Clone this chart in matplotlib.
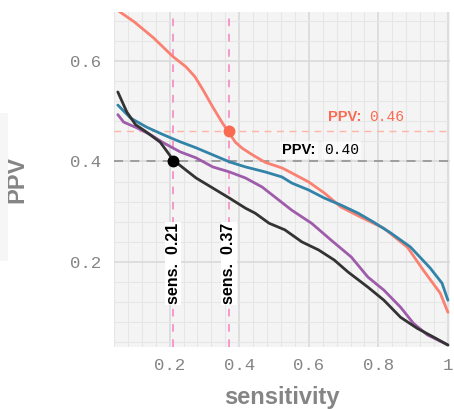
import matplotlib
matplotlib.use("Agg")
import matplotlib.pyplot as plt
from matplotlib.patches import Rectangle
import numpy as np

# ---- data ----
salmon_x = [0.051, 0.097, 0.153, 0.210, 0.247, 0.273, 0.296, 0.324, 0.352, 0.372, 0.389, 0.409,
            0.438, 0.475, 0.523, 0.551, 0.600, 0.645, 0.693, 0.750, 0.816, 0.884, 0.929,
            0.978, 1.0]
salmon_y = [0.700, 0.678, 0.646, 0.608, 0.588, 0.568, 0.542, 0.508, 0.476, 0.456, 0.438, 0.426,
            0.413, 0.398, 0.387, 0.377, 0.359, 0.337, 0.309, 0.289, 0.267, 0.229, 0.184,
            0.138, 0.100]

blue_x = [0.051, 0.088, 0.134, 0.182, 0.230, 0.276, 0.324, 0.372, 0.418, 0.475, 0.523, 0.551,
          0.600, 0.645, 0.693, 0.742, 0.787, 0.835, 0.892, 0.949, 0.983, 1.0]
blue_y = [0.512, 0.486, 0.468, 0.453, 0.439, 0.427, 0.413, 0.399, 0.389, 0.379, 0.369, 0.357,
          0.343, 0.327, 0.313, 0.297, 0.279, 0.258, 0.230, 0.188, 0.158, 0.124]

purple_x = [0.051, 0.068, 0.105, 0.145, 0.182, 0.230, 0.276, 0.324, 0.372, 0.418, 0.466, 0.514,
            0.551, 0.608, 0.665, 0.722, 0.770, 0.816, 0.864, 0.901, 0.941, 1.0]
purple_y = [0.493, 0.478, 0.467, 0.453, 0.437, 0.419, 0.407, 0.389, 0.379, 0.367, 0.349, 0.323,
            0.303, 0.277, 0.243, 0.210, 0.170, 0.144, 0.110, 0.078, 0.055, 0.035]

dark_x = [0.051, 0.077, 0.102, 0.134, 0.173, 0.190, 0.210, 0.239, 0.276, 0.324, 0.372, 0.418,
          0.446, 0.486, 0.531, 0.580, 0.628, 0.673, 0.713, 0.770, 0.816, 0.864, 0.912,
          0.958, 1.0]
dark_y = [0.538, 0.498, 0.473, 0.458, 0.438, 0.422, 0.403, 0.387, 0.367, 0.347, 0.327, 0.307,
          0.297, 0.277, 0.264, 0.240, 0.224, 0.204, 0.180, 0.150, 0.124, 0.090, 0.068,
          0.051, 0.035]

cut_sens = [0.21, 0.37]
cut_ppv = [0.40, 0.46]
x_ticks = [0.2, 0.4, 0.6, 0.8, 1.0]
x_ticklabels = ["0.2", "0.4", "0.6", "0.8", "1"]
y_ticks = [0.2, 0.4, 0.6]
y_ticklabels = ["0.2", "0.4", "0.6"]

C_SALMON = "#FA8072"
C_BLUE = "#3183A8"
C_PURPLE = "#9E5CAB"
C_DARK = "#333333"
C_PINK = "#F77FC0"
C_TOMATO = "#FA6A50"
GREY = "#858585"

fig = plt.figure(figsize=(4.54, 4.09), dpi=100)
fig.patches.append(Rectangle((0, 1 - 261 / 409), 8 / 454, (261 - 113) / 409,
                             transform=fig.transFigure, facecolor="#F6F6F6",
                             edgecolor="none", zorder=0))
ax = fig.add_axes([114 / 454, 1 - 347 / 409, (450 - 114) / 454, (347 - 12) / 409])
ax.set_facecolor("#F4F4F4")
for s in ax.spines.values():
    s.set_visible(False)

ax.set_xlim(0.051, 1.006)
ax.set_ylim(0.031, 0.697)

ax.set_xticks(x_ticks)
ax.set_xticklabels(x_ticklabels)
ax.set_yticks(y_ticks)
ax.set_yticklabels(y_ticklabels)
ax.set_xticks(np.arange(0.04, 1.01, 0.04), minor=True)
ax.set_yticks(np.arange(0.04, 0.70, 0.04), minor=True)
ax.grid(True, which="major", color="#DADADA", linewidth=1.2)
ax.grid(True, which="minor", color="#E6E6E6", linewidth=0.8)
ax.set_axisbelow(True)
ax.tick_params(which="both", length=0)
ax.tick_params(axis="x", pad=8)
ax.tick_params(axis="y", pad=9)
for lab in ax.get_xticklabels() + ax.get_yticklabels():
    lab.set_fontfamily("Liberation Mono")
    lab.set_fontsize(12.5)
    lab.set_color(GREY)

ax.set_xlabel("sensitivity", fontfamily="Liberation Sans", fontweight="bold",
              fontsize=17, color=GREY, labelpad=9)
ax.set_ylabel("PPV", fontfamily="Liberation Sans", fontweight="bold",
              fontsize=17, color=GREY, labelpad=30)

# reference lines
ax.axhline(cut_ppv[1], color="#FFB4A8", linestyle=(0, (5, 4)), linewidth=1.0, zorder=1)
ax.axhline(cut_ppv[0], color="#999999", linestyle=(0, (5, 4)), linewidth=1.3, zorder=1)
for xv in cut_sens:
    ax.axvline(xv, color=C_PINK, linestyle=(0, (5, 5)), linewidth=1.1, zorder=1)

# curves
lw = 2.0
for xs, ys, c in [(salmon_x, salmon_y, C_SALMON), (blue_x, blue_y, C_BLUE),
                  (purple_x, purple_y, C_PURPLE), (dark_x, dark_y, C_DARK)]:
    ax.plot(xs, ys, color=c, linewidth=lw, zorder=3, solid_capstyle="round",
            solid_joinstyle="round")

ax.plot([cut_sens[0]], [cut_ppv[0]], "o", color="black", markersize=7.5, zorder=5)
ax.plot([cut_sens[1]], [cut_ppv[1]], "o", color=C_TOMATO, markersize=7.5, zorder=5)

# PPV labels
def ppv_label(x, y, val, color, bg):
    t1 = ax.text(x, y, "PPV:", fontfamily="Liberation Sans", fontweight="bold",
                 fontsize=10.5, color=color, ha="right", va="center", zorder=6)
    t2 = ax.text(x + 0.024, y, f"{val:.2f}", fontfamily="Liberation Mono",
                 fontsize=10.5, color=color, ha="left", va="center", zorder=6)
    if bg:
        for t in (t1, t2):
            t.set_bbox(dict(facecolor="white", edgecolor="none", alpha=0.6, pad=1.5))

ppv_label(0.620, 0.4235, cut_ppv[0], "black", True)
ppv_label(0.750, 0.4875, cut_ppv[1], C_TOMATO, False)

# sens labels
for xv in cut_sens:
    ax.text(xv, 0.197, f"sens.  {xv:.2f}", rotation=90, fontfamily="Liberation Sans",
            fontweight="bold", fontsize=11.5, color="black", ha="center", va="center",
            zorder=6, bbox=dict(facecolor="white", edgecolor="none", pad=0.5))

fig.savefig("out.png", dpi=100)
